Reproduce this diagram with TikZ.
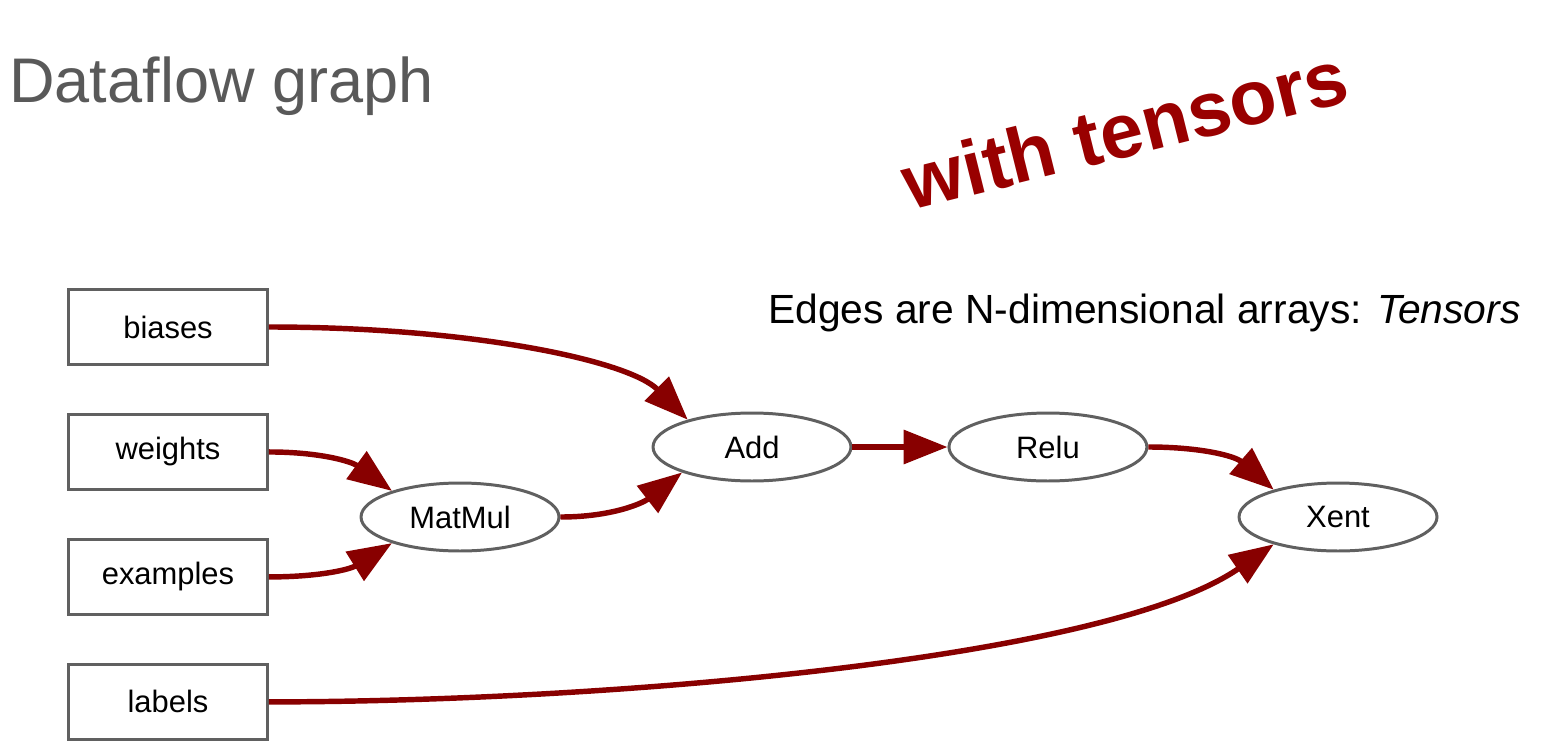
\documentclass[tikz,border=0pt]{standalone}
\usepackage{fontspec}
\setmainfont{Liberation Sans}
\usepackage{xcolor}
\usepackage{tikz}
\usetikzlibrary{arrows.meta,positioning,shapes.geometric}

\definecolor{edgered}{HTML}{880000}
\definecolor{titlered}{HTML}{990000}
\definecolor{linegray}{HTML}{606060}
\definecolor{titlegray}{HTML}{595959}

\begin{document}
\begin{tikzpicture}[
    x=0.02cm, y=-0.02cm,
    node distance=0.94cm,
    box/.style={rectangle,draw=linegray,line width=1.7pt,minimum width=3.98cm,minimum height=1.5cm,inner sep=0pt,font=\fontsize{17.6}{20}\selectfont},
    op/.style={ellipse,draw=linegray,line width=1.7pt,minimum width=3.96cm,minimum height=1.36cm,inner sep=0pt,font=\fontsize{17.6}{20}\selectfont},
    arrow/.style={-{Triangle[length=25pt,width=19pt]},line width=3.1pt,edgered}
]
\useasboundingbox (0,0) rectangle (1550,750);

% titles
\node[anchor=base west,inner sep=0pt,text=titlegray,font=\fontsize{35.9}{40}\selectfont] (title) at (9,102) {Dataflow graph};
\node[rotate=14,inner sep=0pt,text=titlered,font=\bfseries\fontsize{44}{50}\selectfont] (stamp) at (1125,129) {with tensors};
\node[anchor=base west,inner sep=0pt,font=\fontsize{23.2}{26}\selectfont] (note) at (768,323) {Edges are N-dimensional arrays: \textit{Tensors}};

% inputs
\node[box] (biases) at (168,327) {biases};
\node[box,below=of biases] (weights) {weights};
\node[box,below=of weights] (examples) {examples};
\node[box,below=of examples] (labels) {labels};

% operations
\node[op] (matmul) at (460,517) {MatMul};
\node[op] (add) at (752,447) {Add};
\node[op,right=1.9cm of add] (relu) {Relu};
\node[op] (xent) at (1338,517) {Xent};

% tensors
\draw[arrow] (biases.east) to[out=0,in=135,out looseness=1.2,in looseness=0.5] (add.157);
\draw[arrow] (weights.east) to[out=0,in=144] (matmul.159);
\draw[arrow] (examples.east) to[out=0,in=212] (matmul.201);
\draw[arrow] (matmul.east) to[out=0,in=218] (add.200);
\draw[arrow] (add) -- (relu);
\draw[arrow] (relu.east) to[out=0,in=139] (xent.157);
\draw[arrow] (labels.east) .. controls +(332,0) and +(-168,116) .. (xent.203);
\end{tikzpicture}
\end{document}
